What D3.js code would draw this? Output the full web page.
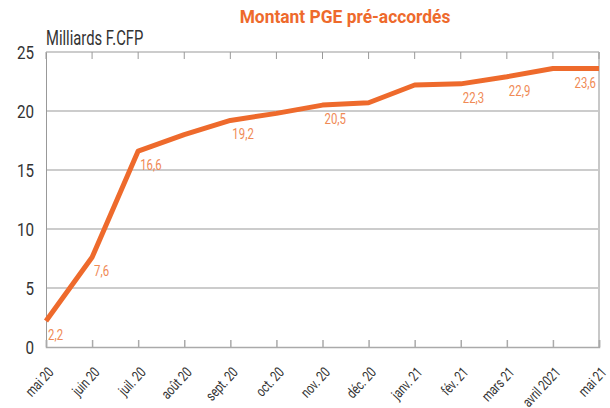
<!DOCTYPE html>
<html>
<head>
<meta charset="utf-8">
<script src="https://cdn.jsdelivr.net/npm/d3@7"></script>
<style>
  body { margin: 0; background: #fff; }
  text { font-family: Roboto, "Liberation Sans", sans-serif; }
</style>
</head>
<body>
<svg width="610" height="408"></svg>
<script>
const months = ['mai 20', 'juin 20', 'juil. 20', 'août 20', 'sept. 20', 'oct. 20', 'nov. 20',
  'déc. 20', 'janv. 21', 'fév. 21', 'mars 21', 'avril 2021', 'mai 21'];
const values = [2.2, 7.6, 16.6, 18.0, 19.2, 19.8, 20.5, 20.7, 22.2, 22.3, 22.9, 23.6, 23.6];
const labelled = ['mai 20', 'juin 20', 'juil. 20', 'sept. 20', 'nov. 20', 'fév. 21', 'mars 21', 'mai 21'];
const yTicks = [0, 5, 10, 15, 20, 25];

const svg = d3.select('svg');
const margin = { top: 52, right: 11, bottom: 61, left: 46 };
const width = +svg.attr('width');
const height = +svg.attr('height');
const innerWidth = width - margin.left - margin.right;
const innerHeight = height - margin.top - margin.bottom;

const data = months.map((m, i) => ({ month: m, value: values[i] }));

const xScale = d3.scalePoint().domain(months).range([0, innerWidth]);
const yScale = d3.scaleLinear().domain([0, 25]).range([innerHeight, 0]);

const g = svg.append('g').attr('transform', `translate(${margin.left},${margin.top})`);

// condensed look: squeeze text horizontally
const narrow = 0.76;

// horizontal grid
g.selectAll('.grid').data(yTicks.slice(1)).enter().append('line')
  .attr('x1', 0).attr('x2', innerWidth)
  .attr('y1', d => yScale(d)).attr('y2', d => yScale(d))
  .attr('stroke', '#999').attr('stroke-width', 1);

// right border
g.append('line')
  .attr('x1', innerWidth).attr('x2', innerWidth)
  .attr('y1', 0).attr('y2', innerHeight)
  .attr('stroke', '#c8c8c8').attr('stroke-width', 2);

// top ticks
g.selectAll('.ttick').data(months).enter().append('line')
  .attr('x1', d => xScale(d)).attr('x2', d => xScale(d))
  .attr('y1', 0).attr('y2', 7)
  .attr('stroke', '#999');

// y axis
const yAxisG = g.append('g')
  .call(d3.axisLeft(yScale).tickValues(yTicks).tickSize(0).tickFormat(d3.format('d')));
yAxisG.select('.domain').attr('stroke', '#999');
yAxisG.selectAll('text')
  .attr('x', 0).attr('dy', '0.36em')
  .attr('font-size', 19).attr('fill', '#333')
  .attr('font-family', 'Roboto, sans-serif')
  .attr('transform', `translate(-12,0) scale(0.8,1)`);

// x axis
const xAxisG = g.append('g')
  .attr('transform', `translate(0,${innerHeight})`)
  .call(d3.axisBottom(xScale).tickSize(-7));
xAxisG.select('.domain').attr('stroke', '#aaa').attr('stroke-width', 1.5);
xAxisG.selectAll('.tick line').attr('stroke', '#aaa').attr('stroke-width', 1.5);
xAxisG.selectAll('text')
  .attr('font-size', 14.5).attr('fill', '#333')
  .attr('font-family', 'Roboto, sans-serif')
  .attr('text-anchor', 'end')
  .attr('x', 0).attr('y', 0).attr('dy', 0)
  .attr('transform', `translate(8,26) rotate(-47) scale(${narrow},1)`);

// line
const line = d3.line()
  .x(d => xScale(d.month))
  .y(d => yScale(d.value));

g.append('path').datum(data)
  .attr('d', line)
  .attr('fill', 'none')
  .attr('stroke', '#ee6a2c')
  .attr('stroke-width', 5)
  .attr('stroke-linejoin', 'round');

// value labels
const fmt = v => d3.format('.1f')(v).replace('.', ',');
const isLast = d => d.month === months[months.length - 1];
g.selectAll('.vlabel').data(data.filter(d => labelled.includes(d.month))).enter().append('text')
  .attr('transform', d =>
    `translate(${xScale(d.month) + (isLast(d) ? -3 : 2)},${yScale(d.value) + 19}) scale(${narrow},1)`)
  .attr('text-anchor', d => isLast(d) ? 'end' : 'start')
  .attr('font-size', 15)
  .attr('fill', '#f08a55')
  .text(d => fmt(d.value));

// unit label
svg.append('text')
  .attr('transform', `translate(${margin.left},45) scale(0.74,1)`)
  .attr('font-size', 20)
  .attr('fill', '#333')
  .text('Milliards F.CFP');

// title
svg.append('text')
  .attr('transform', 'translate(345,23) scale(0.94,1)')
  .attr('text-anchor', 'middle')
  .attr('font-size', 18.5)
  .attr('font-weight', 'bold')
  .attr('fill', '#ee6a2c')
  .text('Montant PGE pré-accordés');
</script>
</body>
</html>
